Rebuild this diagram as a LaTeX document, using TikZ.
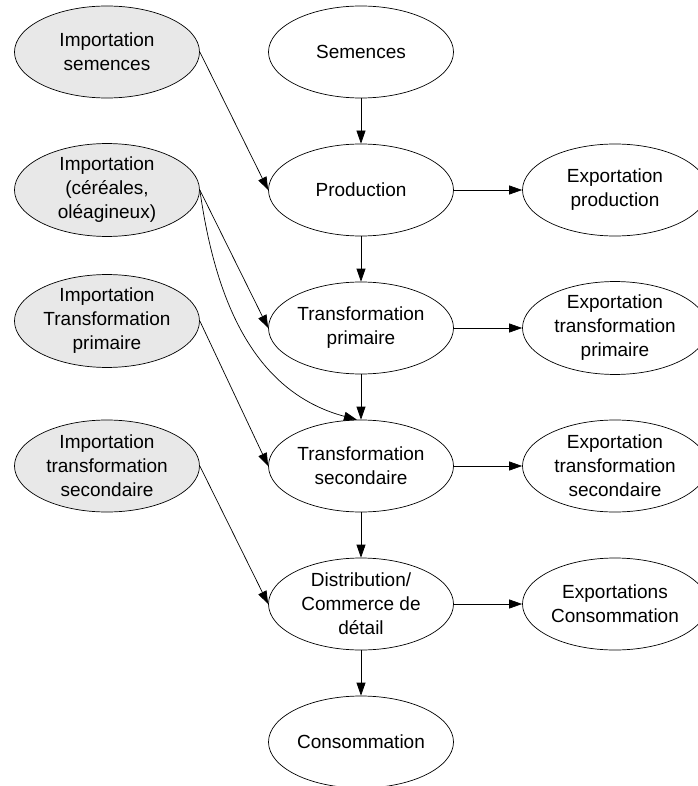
\documentclass[tikz,border=0pt]{standalone}
\usepackage{fontspec}
\setmainfont{Liberation Sans}
\usetikzlibrary{arrows.meta,positioning,shapes}
\tikzstyle{stage}=[draw, ellipse, minimum width=185pt, minimum height=92pt, inner sep=0pt, align=center, font=\fontsize{19}{24}\selectfont]
\tikzstyle{import}=[stage, fill=gray!18]
\tikzstyle{export}=[stage]
\tikzstyle{flow}=[->, >={Triangle[length=13pt,width=9pt]}]

\begin{document}
\begin{tikzpicture}[node distance=138pt, line width=0.7pt]
    \useasboundingbox (-361pt,52pt) rectangle (336pt,-734pt);
    \node (sem) [stage] {Semences};
    \node (prod) [stage, below of=sem] {Production};
    \node (tp) [stage, below of=prod] {Transformation\\primaire};
    \node (ts) [stage, below of=tp] {Transformation\\secondaire};
    \node (dist) [stage, below of=ts] {Distribution/\\Commerce de\\d\'etail};
    \node (cons) [stage, below of=dist] {Consommation};
    %
    \node (isem) [import, node distance=254pt, left of=sem] {Importation\\semences};
    \node (icer) [import, node distance=254pt, left of=prod] {Importation\\(céréales,\\oléagineux)};
    \node (itp) [import, node distance=254pt, left of=tp, yshift=7pt] {Importation\\Transformation\\primaire};
    \node (its) [import, node distance=254pt, left of=ts] {Importation\\transformation\\secondaire};
    %
    \node (eprod) [export, node distance=254pt, right of=prod] {Exportation\\production};
    \node (etp) [export, node distance=254pt, right of=tp] {Exportation\\transformation\\primaire};
    \node (ets) [export, node distance=254pt, right of=ts] {Exportation\\transformation\\secondaire};
    \node (econs) [export, node distance=254pt, right of=dist] {Exportations\\Consommation};
    %
    \draw [flow] (sem) -- (prod);
    \draw [flow] (prod) -- (tp);
    \draw [flow] (tp) -- (ts);
    \draw [flow] (ts) -- (dist);
    \draw [flow] (dist) -- (cons);
    %
    \draw [flow] (prod) -- (eprod);
    \draw [flow] (tp) -- (etp);
    \draw [flow] (ts) -- (ets);
    \draw [flow] (dist) -- (econs);
    %
    \draw [flow] (isem.east) -- (prod.west);
    \draw [flow] (icer.east) -- (tp.west);
    \draw [flow] (icer.east) to[out=-82, in=165] (ts.95);
    \draw [flow] (itp.east) -- (ts.west);
    \draw [flow] (its.east) -- (dist.west);
\end{tikzpicture}
\end{document}
